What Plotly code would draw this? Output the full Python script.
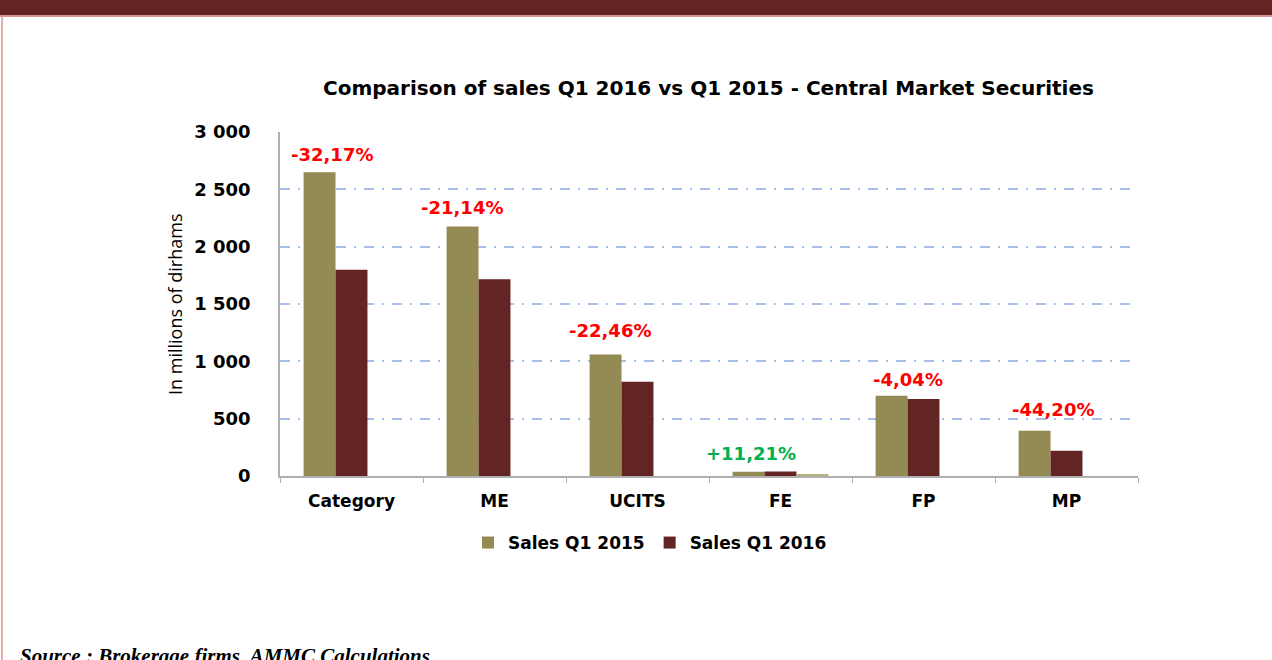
import plotly.graph_objects as go

categories = ["Category", "ME", "UCITS", "FE", "FP", "MP"]
sales_2015 = [2650, 2175, 1060, 36, 700, 395]
sales_2016 = [1798, 1715, 822, 40, 672, 220]
other_series = [0, 0, 0, 10, 0, 0]
change_labels = ["-32,17%", "-21,14%", "-22,46%", "+11,21%", "-4,04%", "-44,20%"]
label_colors = ["#ff0000", "#ff0000", "#ff0000", "#00b050", "#ff0000", "#ff0000"]
label_xshift = [-20, -33, -28, -30, -16, -14]
label_yshift = [18, 19, 24, 18, 16, 21]

W, H = 1272, 660
OLIVE = "#948a54"
MAROON = "#632523"
PINK = "#d99594"

fig = go.Figure()
fig.add_trace(go.Bar(x=categories, y=sales_2015, name="Sales Q1 2015",
                     marker=dict(color=OLIVE, line=dict(width=0))))
fig.add_trace(go.Bar(x=categories, y=sales_2016, name="Sales Q1 2016",
                     marker=dict(color=MAROON, line=dict(width=0))))
fig.add_trace(go.Bar(x=categories, y=other_series, name="Other", showlegend=False,
                     marker=dict(color="#b3b07c", line=dict(width=0))))

x0, x1 = 280 / W, 1138 / W
y0, y1 = 1 - 476 / H, 1 - 132 / H

annotations = []
for c, v, t, col, dx, dy in zip(categories, sales_2015, change_labels, label_colors, label_xshift, label_yshift):
    annotations.append(dict(x=c, y=v, xref="x", yref="y", text=t, showarrow=False,
                            xshift=dx, yshift=dy, yanchor="middle",
                            font=dict(family="DejaVu Sans", size=18, color=col, weight="bold")))

annotations.append(dict(x=175 / W, y=1 - 305 / H, xref="paper", yref="paper",
                        xanchor="center", yanchor="middle",
                        text="In millions of dirhams", textangle=-90, showarrow=False,
                        font=dict(family="Open Sans", size=18, color="#000000")))
annotations.append(dict(x=708 / W, y=1 - 88 / H, xref="paper", yref="paper",
                        xanchor="center", yanchor="middle",
                        text="Comparison of sales Q1 2016 vs Q1 2015 - Central Market Securities",
                        showarrow=False,
                        font=dict(family="DejaVu Sans", size=20, color="#000000", weight="bold")))
annotations.append(dict(x=18 / W, y=1 - 642 / H, xref="paper", yref="paper",
                        xanchor="left", yanchor="top",
                        text="<b><i>Source : Brokerage firms, AMMC Calculations</i></b>",
                        showarrow=False,
                        font=dict(family="Liberation Serif", size=21, color="#000000")))

shapes = [
    dict(type="rect", xref="paper", yref="paper", x0=0, x1=1, y0=1 - 15 / H, y1=1,
         fillcolor=MAROON, line=dict(width=0), layer="above"),
    dict(type="line", xref="paper", yref="paper", x0=0, x1=1, y0=1 - 16 / H, y1=1 - 16 / H,
         line=dict(color=PINK, width=2)),
    dict(type="line", xref="paper", yref="paper", x0=2 / W, x1=2 / W, y0=0, y1=1 - 16 / H,
         line=dict(color=PINK, width=1.5)),
]

fig.update_layout(
    template="none",
    width=W, height=H,
    margin=dict(l=0, r=0, t=0, b=0, pad=0, autoexpand=False),
    paper_bgcolor="white", plot_bgcolor="white",
    separators=", ",
    barmode="group", bargap=0.33, bargroupgap=0,
    annotations=annotations, shapes=shapes,
    legend=dict(orientation="h", x=650 / W, xanchor="center", y=1 - 543 / H, yanchor="middle",
                font=dict(family="DejaVu Sans", size=17, color="#000000", weight="bold"),
                itemwidth=30, traceorder="normal", bgcolor="rgba(0,0,0,0)"),
    xaxis=dict(domain=[x0, x1], automargin=False, showline=True, linecolor="#b0b0b0", linewidth=1.5,
               ticks="outside", tickson="boundaries", ticklen=5, tickcolor="#b0b0b0",
               ticklabelstandoff=9,
               tickfont=dict(family="DejaVu Sans", size=17, color="#000000", weight="bold"),
               showgrid=False, zeroline=False),
    yaxis=dict(domain=[y0, y1], automargin=False, range=[0, 3000], dtick=500, tickformat=",d",
               showline=True, linecolor="#b0b0b0", linewidth=1.5,
               showgrid=True, gridcolor="#a8c0e8", gridwidth=1.5, griddash="10px,8px,2px,8px",
               zeroline=False, ticks="", ticklabelstandoff=24,
               tickfont=dict(family="DejaVu Sans", size=18, color="#000000", weight="bold")),
)

fig.write_html("out.html", config={"displayModeBar": False},
               post_script="document.body.style.margin='0';")
